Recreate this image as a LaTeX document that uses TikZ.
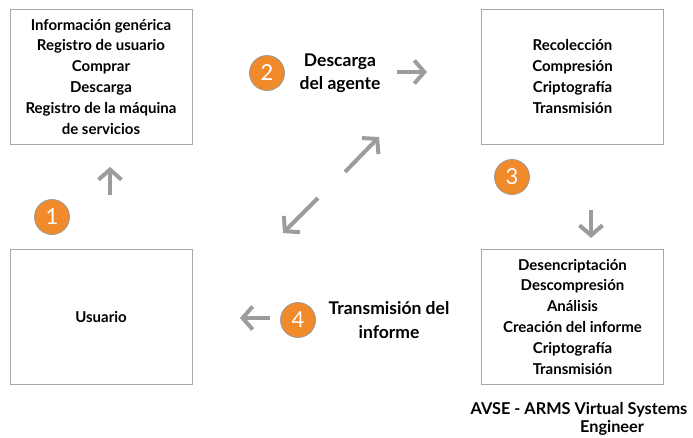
\documentclass[tikz,border=0pt]{standalone}
\usepackage{fontspec}
\setmainfont{Lato}
\usetikzlibrary{arrows.meta, positioning}
\definecolor{boxgray}{HTML}{A8A8A8}
\definecolor{arrowgray}{HTML}{9C9C9C}
\definecolor{steporange}{HTML}{F18A2B}

\begin{document}
\begin{tikzpicture}[x=1pt, y=-1pt,
    stagebox/.style={draw=boxgray, line width=0.9pt, minimum width=182pt, minimum height=135pt,
        align=center, font=\fontsize{15}{20.8}\selectfont\bfseries},
    stepnum/.style={circle, draw=gray!80, line width=0.8pt, fill=steporange, minimum size=35pt,
        inner sep=0pt, text=white, font=\fontsize{22}{22}\selectfont},
    steplabel/.style={align=center, font=\fontsize{17.5}{23.5}\selectfont\bfseries},
    flow/.style={draw=arrowgray, line width=4pt, -{Straight Barb[length=10pt, width=23pt]}}]
    \useasboundingbox (0,0) rectangle (693,437);

    % four stages
    \node[stagebox] (info) at (101,76.5) {Información genérica\\Registro de usuario\\Comprar\\Descarga\\Registro de la máquina\\de servicios};
    \node[stagebox] (agent) at (572.5,76.5) {Recolección\\Compresión\\Criptografía\\Transmisión};
    \node[stagebox] (avse) at (572.5,316.5) {Desencriptación\\Descompresión\\Análisis\\Creación del informe\\Criptografía\\Transmisión};
    \node[stagebox] (user) at (101,316.5) {Usuario};

    % numbered steps
    \node[stepnum] (n1) at (52,217) {1};
    \node[stepnum] (n2) at (267,73) {2};
    \node[stepnum] (n3) at (512,177) {3};
    \node[stepnum] (n4) at (298,320) {4};
    \node[steplabel] (download) at (340,73) {Descarga\\del agente};
    \node[steplabel] (report) at (389,320) {Transmisión del\\informe};

    \node[font=\fontsize{16.3}{20}\selectfont\bfseries] (avsename) at (579,410) {AVSE - ARMS Virtual Systems};
    \node[font=\fontsize{16.3}{20}\selectfont\bfseries] (avseline) at (612,428) {Engineer};

    % arrows
    \coordinate (upA) at (110,195);   \coordinate (upB) at (110,167);
    \coordinate (rtA) at (397,72);    \coordinate (rtB) at (427,72);
    \coordinate (dnA) at (591,210);   \coordinate (dnB) at (591,238);
    \coordinate (ltA) at (270,318);   \coordinate (ltB) at (240,318);
    \coordinate (neA) at (345,172);   \coordinate (neB) at (379,137);
    \coordinate (swA) at (318,198);   \coordinate (swB) at (283,233);
    \draw[flow] (upA) -- (upB);
    \draw[flow] (rtA) -- (rtB);
    \draw[flow] (dnA) -- (dnB);
    \draw[flow] (ltA) -- (ltB);
    \draw[flow] (neA) -- (neB);
    \draw[flow] (swA) -- (swB);
\end{tikzpicture}
\end{document}
